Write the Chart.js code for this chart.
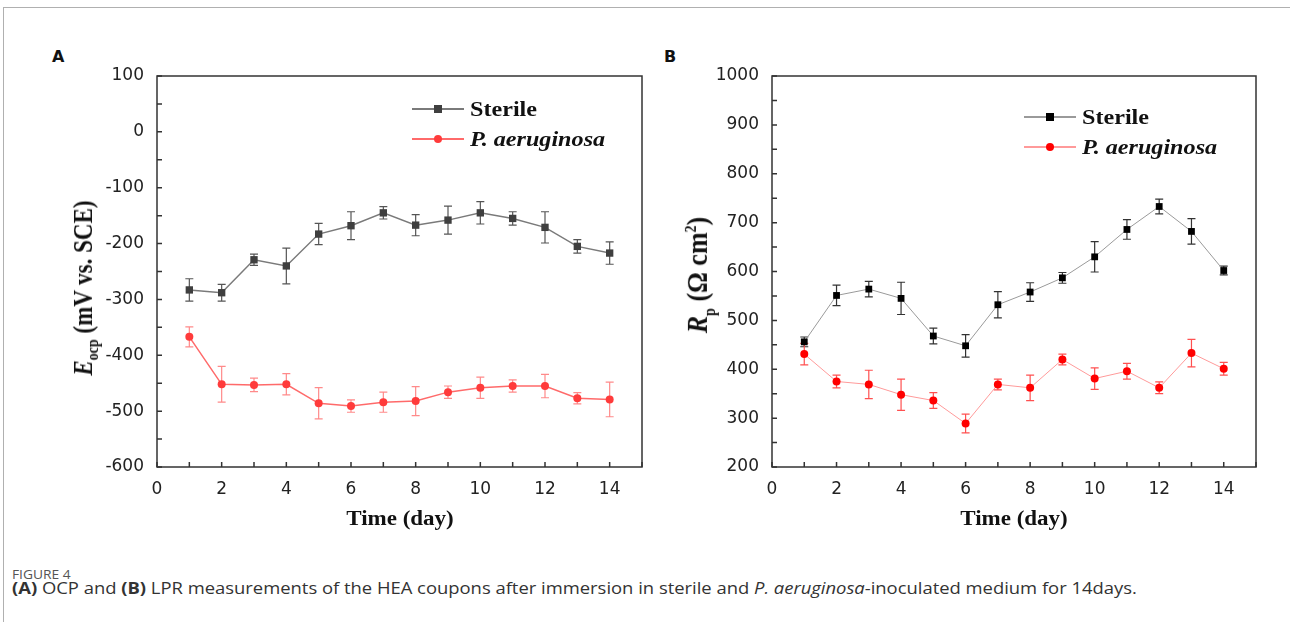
<!DOCTYPE html>
<html>
<head>
<meta charset="utf-8">
<script src="https://cdn.jsdelivr.net/npm/chart.js@4.4.0/dist/chart.umd.min.js"></script>
<style>
body { margin: 0; width: 1290px; height: 622px; background: #fff; position: relative; overflow: hidden; font-family: "Liberation Serif", serif; }
.frame { position: absolute; left: 3px; top: 7px; right: -2px; bottom: -2px; border-top: 1px solid #b0b0b0; border-left: 1px solid #b0b0b0; }
.cv { position: absolute; }
.lbl { position: absolute; white-space: nowrap; color: #111; }
.panel { font-family: "DejaVu Sans", sans-serif; font-weight: bold; font-size: 16px; }
.xt { font-weight: bold; font-size: 20px; transform: translate(-50%, -50%) scaleX(1.15); }
.yt { font-weight: bold; font-size: 23px; transform: translate(-50%, -50%) rotate(-90deg) scaleY(1.15); }
.yt sub, .yt sup { font-size: 14px; }
.leg { font-weight: bold; font-size: 21px; transform-origin: 0 50%; transform: translateY(-50%) scaleX(1.15); }
.legline { position: absolute; }
.legmark { position: absolute; }
.fig { font-family: "Open Sans", sans-serif; font-size: 12px; color: #555; left: 12px; top: 566px; transform-origin: 0 0; transform: scaleX(1.15); }
.cap { font-family: "Open Sans", sans-serif; font-size: 16px; color: #333; left: 12px; top: 577px; transform-origin: 0 0; transform: scaleX(1.15); }
</style>
</head>
<body>
<div class="frame"></div>

<canvas id="chartA" class="cv" style="left:90px; top:60px; width:566px; height:450px;" width="566" height="450"></canvas>
<canvas id="chartB" class="cv" style="left:700px; top:60px; width:570px; height:450px;" width="570" height="450"></canvas>

<div class="lbl panel" style="left:52px; top:47px;">A</div>
<div class="lbl panel" style="left:664px; top:47px;">B</div>

<div class="lbl xt" style="left:400px; top:518px;">Time (day)</div>
<div class="lbl xt" style="left:1014px; top:518px;">Time (day)</div>

<div class="lbl yt" style="left:86px; top:288px;"><i>E</i><sub>ocp</sub> (mV vs. SCE)</div>
<div class="lbl yt" style="left:700px; top:275px; font-size:26px;"><i>R</i><sub>p</sub> (&Omega; cm<sup>2</sup>)</div>

<div id="legA"></div>
<div id="legB"></div>

<div class="lbl fig">FIGURE 4</div>
<div class="lbl cap"><b>(A)</b> OCP and <b>(B)</b> LPR measurements of the HEA coupons after immersion in sterile and <i>P. aeruginosa</i>-inoculated medium for 14days.</div>

<script>
// days of immersion
const days = [1, 2, 3, 4, 5, 6, 7, 8, 9, 10, 11, 12, 13, 14];

// panel A: open circuit potential (mV vs. SCE)
const ocpSterile = [-283, -288, -229, -240, -183, -168, -145, -167, -158, -145, -155, -171, -205, -217];
const ocpSterileErr = [20, 15, 10, 32, 19, 25, 11, 19, 25, 20, 12, 28, 12, 20];
const ocpPa = [-367, -452, -453, -452, -486, -491, -484, -482, -466, -458, -455, -455, -477, -479];
const ocpPaErr = [18, 32, 12, 19, 28, 11, 18, 26, 11, 19, 11, 21, 10, 31];

// panel B: polarization resistance (ohm cm2)
const rpSterile = [456, 551, 564, 545, 468, 448, 532, 558, 587, 630, 686, 733, 682, 602];
const rpSterileErr = [10, 21, 16, 33, 16, 23, 27, 19, 11, 31, 20, 15, 26, 9];
const rpPa = [431, 375, 369, 348, 336, 289, 369, 362, 420, 381, 396, 362, 433, 401];
const rpPaErr = [22, 13, 29, 32, 16, 19, 11, 26, 11, 22, 16, 12, 28, 13];

// tick labels
const xTicks = [0, 2, 4, 6, 8, 10, 12, 14];
const xMarks = [0, 1, 2, 3, 4, 5, 6, 7, 8, 9, 10, 11, 12, 13, 14, 15];
const yTicksA = [100, 0, -100, -200, -300, -400, -500, -600];
const yTicksB = [1000, 900, 800, 700, 600, 500, 400, 300, 200];

const seriesNames = ['Sterile', 'P. aeruginosa'];

// minor ticks halfway between the labelled ones
function withMinor(ticks) {
  const out = [];
  ticks.forEach((t, i) => {
    out.push(t);
    if (i < ticks.length - 1) out.push((t + ticks[i + 1]) / 2);
  });
  return out;
}

const errorBars = {
  id: 'errorBars',
  beforeDatasetsDraw(chart) {
    const ctx = chart.ctx;
    const x = chart.scales.x, y = chart.scales.y;
    chart.data.datasets.forEach(ds => {
      ctx.save();
      ctx.strokeStyle = ds.errColor;
      ctx.lineWidth = 1.2;
      ds.data.forEach((p, i) => {
        const px = x.getPixelForValue(p.x);
        const top = y.getPixelForValue(p.y + ds.err[i]);
        const bot = y.getPixelForValue(p.y - ds.err[i]);
        ctx.beginPath();
        ctx.moveTo(px, top); ctx.lineTo(px, bot);
        ctx.moveTo(px - 4, top); ctx.lineTo(px + 4, top);
        ctx.moveTo(px - 4, bot); ctx.lineTo(px + 4, bot);
        ctx.stroke();
      });
      ctx.restore();
    });
  }
};

const boxTicks = {
  id: 'boxTicks',
  afterDraw(chart, args, opts) {
    const ctx = chart.ctx, a = chart.chartArea;
    const x = chart.scales.x, y = chart.scales.y;
    ctx.save();
    ctx.strokeStyle = '#333';
    ctx.lineWidth = 1.5;
    ctx.strokeRect(a.left, a.top, a.right - a.left, a.bottom - a.top);
    ctx.beginPath();
    xMarks.forEach(v => {
      const p = x.getPixelForValue(v);
      ctx.moveTo(p, a.bottom); ctx.lineTo(p, a.bottom - 5);
    });
    opts.yMarks.forEach(v => {
      const p = y.getPixelForValue(v);
      ctx.moveTo(a.left, p); ctx.lineTo(a.left + 5, p);
    });
    ctx.stroke();
    ctx.restore();
  }
};

function makePanel(id, cfg) {
  const tickFont = { family: 'DejaVu Sans', size: 17 };
  new Chart(document.getElementById(id), {
    type: 'line',
    data: {
      datasets: [{
        label: seriesNames[0],
        data: days.map((d, i) => ({ x: d, y: cfg.sterile[i] })),
        err: cfg.sterileErr,
        errColor: cfg.sterileErrColor,
        borderColor: cfg.sterileLine,
        borderWidth: cfg.lineWidth,
        pointStyle: 'rect',
        pointRadius: cfg.rectRadius,
        pointBackgroundColor: cfg.sterileMark,
        pointBorderColor: cfg.sterileMark,
        pointBorderWidth: 0
      }, {
        label: seriesNames[1],
        data: days.map((d, i) => ({ x: d, y: cfg.pa[i] })),
        err: cfg.paErr,
        errColor: cfg.paErrColor,
        borderColor: cfg.paLine,
        borderWidth: cfg.lineWidth,
        pointStyle: 'circle',
        pointRadius: 4,
        pointBackgroundColor: cfg.paMark,
        pointBorderColor: cfg.paMark,
        pointBorderWidth: 0
      }]
    },
    options: {
      responsive: false,
      animation: false,
      events: [],
      layout: { padding: { left: 0, top: 16, right: 14, bottom: 0 } },
      plugins: {
        legend: { display: false },
        tooltip: { enabled: false },
        boxTicks: { yMarks: withMinor(cfg.yTicks) }
      },
      scales: {
        x: {
          type: 'linear',
          min: 0,
          max: 15,
          grid: { display: false },
          border: { display: false },
          ticks: { font: tickFont, color: '#222', padding: 4, maxRotation: 0, callback: v => String(v) },
          afterBuildTicks: s => { s.ticks = xTicks.map(v => ({ value: v })); },
          afterFit: s => { s.height = 43; }
        },
        y: {
          min: cfg.yMin,
          max: cfg.yMax,
          grid: { display: false },
          border: { display: false },
          ticks: { font: tickFont, color: '#222', padding: 5, callback: v => String(v) },
          afterBuildTicks: s => { s.ticks = cfg.yTicks.map(v => ({ value: v })); },
          afterFit: s => { s.width = cfg.yWidth; }
        }
      }
    },
    plugins: [errorBars, boxTicks]
  });
}

makePanel('chartA', {
  sterile: ocpSterile, sterileErr: ocpSterileErr,
  pa: ocpPa, paErr: ocpPaErr,
  yMin: -600, yMax: 100, yTicks: yTicksA, yWidth: 67,
  sterileLine: '#7a7a7a', sterileMark: '#3f3f3f', sterileErrColor: '#555',
  paLine: '#ff6a6a', paMark: '#ff3b3b', paErrColor: '#ff8a8a',
  lineWidth: 1.5, rectRadius: 5.2
});

makePanel('chartB', {
  sterile: rpSterile, sterileErr: rpSterileErr,
  pa: rpPa, paErr: rpPaErr,
  yMin: 200, yMax: 1000, yTicks: yTicksB, yWidth: 72,
  sterileLine: '#9a9a9a', sterileMark: '#000', sterileErrColor: '#333',
  paLine: '#ff9a9a', paMark: '#ff0000', paErrColor: '#ff5050',
  lineWidth: 1, rectRadius: 4.8
});

// legends: line with marker, then the series name
function makeLegend(id, left, top, styles) {
  const box = document.getElementById(id);
  styles.forEach((st, i) => {
    const y = top + i * 30;
    const line = document.createElement('div');
    line.className = 'legline';
    line.style.cssText = 'left:' + left + 'px;top:' + (y - 0.75) + 'px;width:52px;height:1.5px;background:' + st.line;
    box.appendChild(line);
    const m = document.createElement('div');
    m.className = 'legmark';
    m.style.cssText = 'left:' + (left + 22) + 'px;top:' + (y - 4) + 'px;width:8px;height:8px;background:' + st.mark +
      (st.round ? ';border-radius:50%' : '');
    box.appendChild(m);
    const t = document.createElement('div');
    t.className = 'lbl leg';
    t.style.left = (left + 58) + 'px';
    t.style.top = y + 'px';
    t.textContent = seriesNames[i];
    if (i === 1) t.style.fontStyle = 'italic';
    box.appendChild(t);
  });
}

makeLegend('legA', 412, 109, [
  { line: '#7a7a7a', mark: '#3f3f3f' },
  { line: '#ff6a6a', mark: '#ff3b3b', round: true }
]);
makeLegend('legB', 1024, 117, [
  { line: '#9a9a9a', mark: '#000' },
  { line: '#ff9a9a', mark: '#ff0000', round: true }
]);
</script>
</body>
</html>
